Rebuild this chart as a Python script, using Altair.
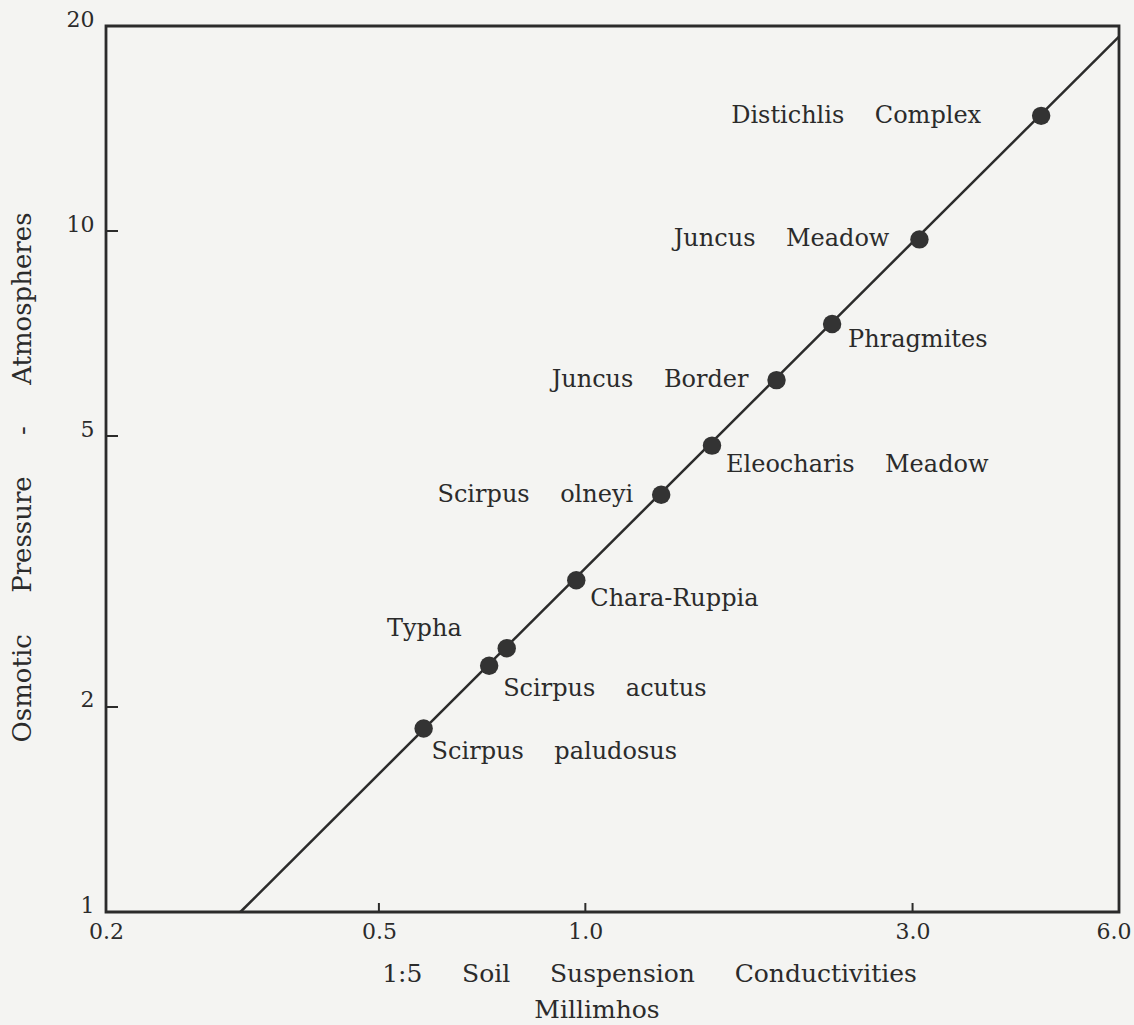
import altair as alt
import pandas as pd

# Plant communities: 1:5 soil suspension conductivity (millimhos) and osmotic pressure (atm)
communities = [
    "Distichlis Complex", "Juncus Meadow", "Phragmites", "Juncus Border",
    "Eleocharis Meadow", "Scirpus olneyi", "Chara-Ruppia", "Typha",
    "Scirpus acutus", "Scirpus paludosus",
]
conductivity = [4.62, 3.07, 2.29, 1.90, 1.53, 1.29, 0.97, 0.768, 0.724, 0.581]
osmotic_pressure = [14.76, 9.72, 7.30, 6.04, 4.84, 4.10, 3.07, 2.44, 2.30, 1.86]

# Fitted relation, drawn between its two end points
line_conductivity = [0.314, 6.0]
line_osmotic = [1.0, 19.3]

# Axis ticks
x_label_values = [0.2, 0.5, 1.0, 3.0, 6.0]
x_tick_values = [0.5, 1.0, 3.0]
y_label_values = [1, 2, 5, 10, 20]
y_tick_values = [2, 5, 10]

unit_text = ["Millimhos"]

df = pd.DataFrame({"name": communities, "cond": conductivity, "osm": osmotic_pressure})
line_df = pd.DataFrame({"cond": line_conductivity, "osm": line_osmotic})
xt_df = pd.DataFrame({"cond": x_tick_values})
yt_df = pd.DataFrame({"osm": y_tick_values})
unit_df = pd.DataFrame({"t": unit_text})

INK = "#2b2b2b"
FONT = "DejaVu Serif"
W, H = 1013, 886
SP = "\u00a0"

x_scale = alt.Scale(type="log", domain=[0.2, 6.0], nice=False)
y_scale = alt.Scale(type="log", domain=[1, 20], nice=False)

x_enc = alt.X(
    "cond:Q", scale=x_scale,
    axis=alt.Axis(
        values=x_label_values, format=".1f", ticks=False, domain=False, grid=False,
        labelFont=FONT, labelFontSize=22, labelColor=INK, labelPadding=9,
        labelFlush=False,
        labelAlign={"condition": {"test": "datum.value >= 6", "value": "right"},
                    "value": "center"},
        labelOffset={"condition": {"test": "datum.value >= 6", "value": 12},
                     "value": 0},
        title=f"1:5{SP*5}Soil{SP*5}Suspension{SP*5}Conductivities",
        titleFont=FONT, titleFontSize=25, titleFontWeight="normal", titleColor=INK,
        titleX=543, titleY=61, titleAlign="center", titleBaseline="middle",
    ),
)
y_enc = alt.Y(
    "osm:Q", scale=y_scale,
    axis=alt.Axis(
        values=y_label_values, format="d", ticks=False, domain=False, grid=False,
        labelFont=FONT, labelFontSize=22, labelColor=INK, labelPadding=12,
        labelBaseline="alphabetic",
        title=f"Osmotic{SP*5}Pressure{SP*5}-{SP*5}Atmospheres",
        titleFont=FONT, titleFontSize=26, titleFontWeight="normal", titleColor=INK,
        titleX=-84, titleY=451, titleAngle=270, titleAlign="center",
        titleBaseline="middle",
    ),
)

line = alt.Chart(line_df).mark_line(color=INK, strokeWidth=2.5).encode(x=x_enc, y=y_enc)

points = alt.Chart(df).mark_circle(size=340, opacity=1, color="#333333").encode(
    x=alt.X("cond:Q", scale=x_scale), y=alt.Y("osm:Q", scale=y_scale)
)

# Inward-pointing tick marks on the bottom and left edges
x_ticks = alt.Chart(xt_df).mark_rule(color=INK, strokeWidth=2).encode(
    x=alt.X("cond:Q", scale=x_scale), y=alt.value(H), y2=alt.value(H - 9)
)
y_ticks = alt.Chart(yt_df).mark_rule(color=INK, strokeWidth=2).encode(
    y=alt.Y("osm:Q", scale=y_scale), x=alt.value(0), x2=alt.value(12)
)

# Label placement beside each point: (align, dx, dy)
placement = {
    "Distichlis Complex": ("right", -60, 0),
    "Juncus Meadow": ("right", -30, 0),
    "Phragmites": ("left", 16, 16),
    "Juncus Border": ("right", -28, 0),
    "Eleocharis Meadow": ("left", 14, 19),
    "Scirpus olneyi": ("right", -28, 0),
    "Chara-Ruppia": ("left", 14, 19),
    "Typha": ("right", -45, -19),
    "Scirpus acutus": ("left", 14, 23),
    "Scirpus paludosus": ("left", 8, 24),
}

label_layers = []
for name, (align, dx, dy) in placement.items():
    label_layers.append(
        alt.Chart(df)
        .transform_filter(alt.datum.name == name)
        .transform_calculate(shown="replace(datum.name, ' ', '\u00a0\u00a0\u00a0\u00a0')")
        .mark_text(align=align, baseline="middle", dx=dx, dy=dy,
                   font=FONT, fontSize=24, color=INK)
        .encode(x=alt.X("cond:Q", scale=x_scale),
                y=alt.Y("osm:Q", scale=y_scale),
                text="shown:N")
    )

unit_line = alt.Chart(unit_df).mark_text(
    font=FONT, fontSize=25, color=INK, align="center", baseline="middle"
).encode(x=alt.value(491), y=alt.value(984), text="t:N")

chart = (
    alt.layer(line, x_ticks, y_ticks, points, *label_layers, unit_line)
    .encode(x=x_enc, y=y_enc)
    .properties(
        width=W, height=H,
        padding={"left": 106, "top": 26, "right": 15, "bottom": 113},
        autosize=alt.AutoSizeParams(type="none"),
        background="#f4f4f2",
    )
    .configure_view(stroke=INK, strokeWidth=2.8)
)

chart.save("out.html", embed_options={"renderer": "svg", "actions": False})
